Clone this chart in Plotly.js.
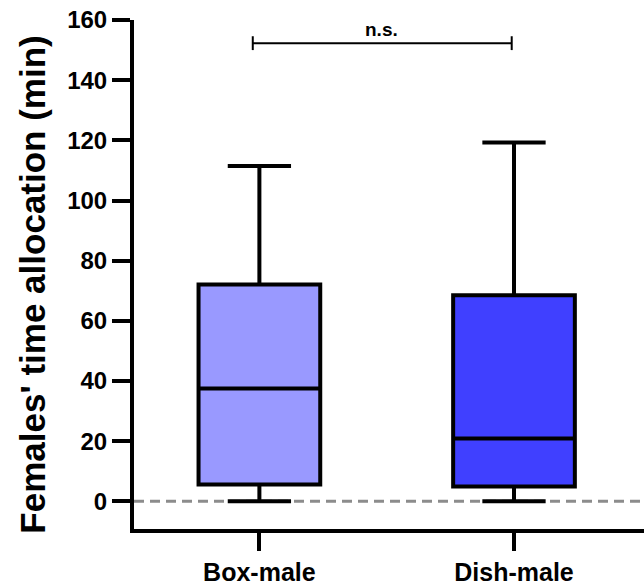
<!DOCTYPE html>
<html>
<head>
<meta charset="utf-8">
<script src="https://cdn.plot.ly/plotly-3.0.1.min.js"></script>
<style>html,body{margin:0;padding:0;background:#fff;}#chart{width:644px;height:585px;}</style>
</head>
<body>
<div id="chart"></div>
<script>
const categories = ['Box-male', 'Dish-male'];
const lowerWhisker = [0, 0];
const q1Values = [5.6, 4.9];
const medianValues = [37.5, 20.9];
const q3Values = [72.1, 68.5];
const upperWhisker = [111.5, 119.3];
const fillColors = ['#9999ff', '#4040ff'];
const yTickValues = [0, 20, 40, 60, 80, 100, 120, 140, 160];
const yTitle = "Females' time allocation (min)";
const sigLabel = 'n.s.';
const sigLevel = 152.3;

const FONT = 'Liberation Sans, Arial, sans-serif';

const traces = categories.map((c, i) => ({
  type: 'box',
  x: [c],
  q1: [q1Values[i]],
  median: [medianValues[i]],
  q3: [q3Values[i]],
  lowerfence: [lowerWhisker[i]],
  upperfence: [upperWhisker[i]],
  boxpoints: false,
  fillcolor: fillColors[i],
  line: {color: '#000', width: 4},
  width: 0.478,
  whiskerwidth: 0.52,
  hoverinfo: 'skip',
  showlegend: false
}));

const layout = {
  width: 644, height: 585,
  margin: {l: 134, r: 0, t: 20, b: 56},
  paper_bgcolor: '#fff', plot_bgcolor: '#fff',
  boxmode: 'overlay',
  showlegend: false,
  xaxis: {
    type: 'category',
    range: [-0.4925, 1.5106],
    showgrid: false, zeroline: false,
    showline: true, linecolor: '#000', linewidth: 4,
    ticks: 'outside', ticklen: 18, tickwidth: 4, tickcolor: '#000',
    tickfont: {family: FONT, size: 25, color: '#000', weight: 700}
  },
  yaxis: {
    range: [-9.2, 160],
    tickvals: yTickValues,
    ticktext: yTickValues.map(String),
    showgrid: false, zeroline: false,
    showline: true, linecolor: '#000', linewidth: 4,
    ticks: 'outside', ticklen: 18, tickwidth: 4, tickcolor: '#000',
    tickfont: {family: FONT, size: 24, color: '#000', weight: 700}
  },
  shapes: [
    {type: 'line', xref: 'paper', yref: 'y', x0: 0, x1: 1, y0: 0, y1: 0,
     line: {color: '#8c8c8c', width: 3, dash: '10px,6px'}, layer: 'below'},
    {type: 'line', xref: 'x', yref: 'y', x0: -0.026, x1: 0.991, y0: sigLevel, y1: sigLevel,
     line: {color: '#000', width: 2}},
    {type: 'line', xref: 'x', yref: 'y', x0: -0.026, x1: -0.026, y0: sigLevel - 2.3, y1: sigLevel + 2.3,
     line: {color: '#000', width: 2}},
    {type: 'line', xref: 'x', yref: 'y', x0: 0.991, x1: 0.991, y0: sigLevel - 2.3, y1: sigLevel + 2.3,
     line: {color: '#000', width: 2}}
  ],
  annotations: [
    {text: sigLabel, xref: 'x', yref: 'y', x: 0.48, y: 157, xanchor: 'center', yanchor: 'middle',
     showarrow: false, font: {family: FONT, size: 19, color: '#000', weight: 700}},
    {text: yTitle, xref: 'paper', yref: 'paper', x: -0.198, y: 0.48, textangle: -90,
     xanchor: 'center', yanchor: 'middle', showarrow: false,
     font: {family: FONT, size: 35, color: '#000', weight: 700}}
  ]
};

Plotly.newPlot('chart', traces, layout, {staticPlot: true, displayModeBar: false});
</script>
</body>
</html>
